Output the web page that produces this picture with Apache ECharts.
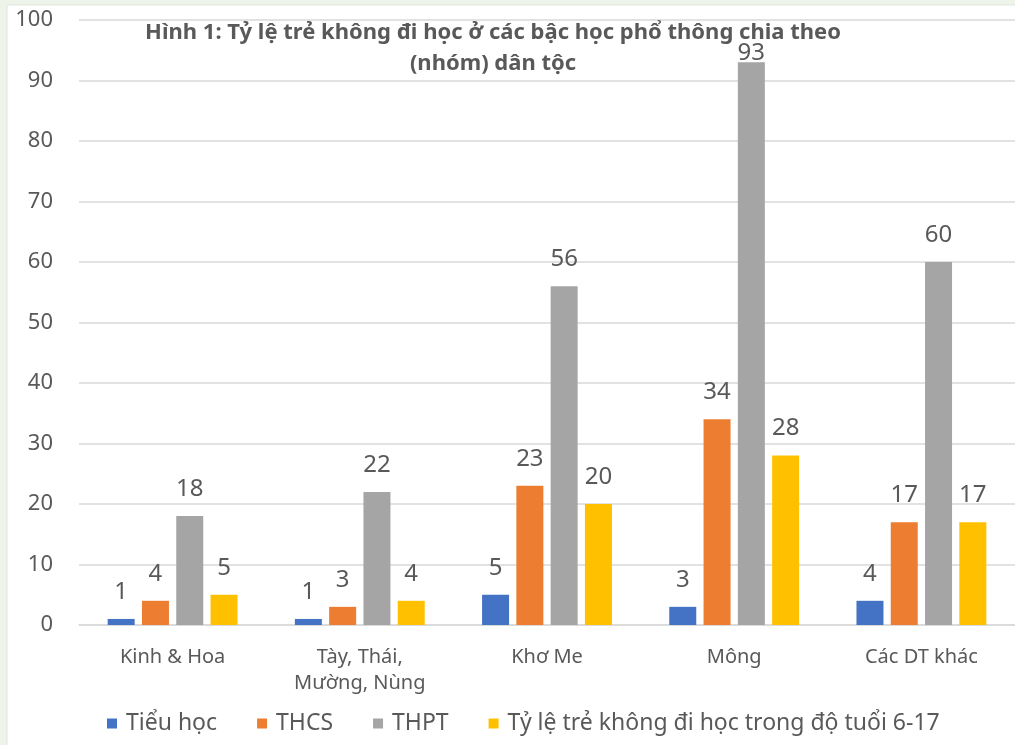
<!DOCTYPE html>
<html>
<head>
<meta charset="utf-8">
<script src="https://cdn.jsdelivr.net/npm/echarts@6/dist/echarts.min.js"></script>
<style>
html,body{margin:0;padding:0;background:#eef4ea;}
#chart{width:1015px;height:745px;}
</style>
</head>
<body>
<div id="chart"></div>
<script>
const categories = ['Kinh & Hoa', 'Tày, Thái,\nMường, Nùng', 'Khơ Me', 'Mông', 'Các DT khác'];
const tieuHoc = [1, 1, 5, 3, 4];
const thcs = [4, 3, 23, 34, 17];
const thpt = [18, 22, 56, 93, 60];
const tyLe = [5, 4, 20, 28, 17];
const seriesNames = ['Tiểu học', 'THCS', 'THPT', 'Tỷ lệ trẻ không đi học trong độ tuổi 6-17'];
const colors = ['#4472C4', '#ED7D31', '#A5A5A5', '#FFC000'];
const titleText = 'Hình 1: Tỷ lệ trẻ không đi học ở các bậc học phổ thông chia theo\n(nhóm) dân tộc';

const FONT = '"Noto Sans", "Open Sans", sans-serif';
const txt = '#595959';

const chart = echarts.init(document.getElementById('chart'));
const dataSets = [tieuHoc, thcs, thpt, tyLe];
chart.setOption({
  backgroundColor: 'transparent',
  animation: false,
  textStyle: {fontFamily: FONT},
  graphic: [{
    type: 'rect', z: -10, silent: true,
    shape: {x: 7, y: 5, width: 1015, height: 745},
    style: {fill: '#ffffff', stroke: '#dfe6da', lineWidth: 1}
  }],
  title: {
    text: titleText,
    left: 488, top: 12, textAlign: 'center',
    textStyle: {fontFamily: FONT, fontSize: 22, fontWeight: 'bold', color: txt, lineHeight: 31}
  },
  legend: {
    top: 707, left: 102,
    itemWidth: 10, itemHeight: 10, itemGap: 40,
    icon: 'rect',
    textStyle: {fontFamily: FONT, fontSize: 23, color: txt, padding: [0, 0, 0, 4]},
    data: seriesNames
  },
  grid: {left: 79, width: 946, top: 20, bottom: 120, containLabel: false},
  xAxis: {
    type: 'category', data: categories,
    axisLine: {lineStyle: {color: '#d9d9d9', width: 1.5}},
    axisTick: {show: false},
    axisLabel: {color: txt, fontSize: 20, margin: 19, lineHeight: 26, interval: 0}
  },
  yAxis: {
    type: 'value', min: 0, max: 100, interval: 10,
    axisLine: {show: false}, axisTick: {show: false},
    splitLine: {lineStyle: {color: '#d9d9d9', width: 1.5}},
    axisLabel: {color: txt, fontSize: 22, margin: 26}
  },
  series: dataSets.map((d, i) => ({
    name: seriesNames[i], type: 'bar',
    data: d.map(v => v > 90 ? {value: v, label: {distance: -3}} : v),
    barWidth: 27, barGap: '27%',
    itemStyle: {color: colors[i]},
    label: {show: true, position: 'top', distance: 15, color: txt, fontSize: 24}
  }))
});
</script>
</body>
</html>
